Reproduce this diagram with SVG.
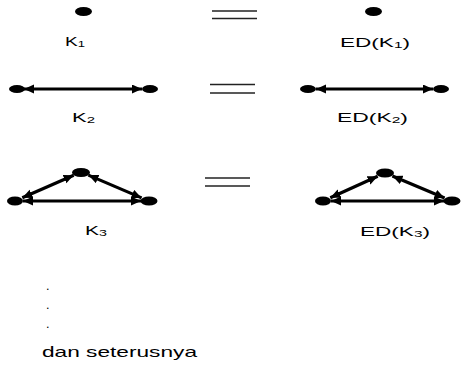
<svg xmlns="http://www.w3.org/2000/svg" width="464" height="365" viewBox="0 0 464 365">
<defs>
<style>
.t{font-family:"Liberation Sans",Arial,sans-serif;font-size:12.5px;fill:#000}
.s{font-size:8.5px}
.e{stroke:#000;stroke-width:3.2;fill:none;marker-start:url(#ah);marker-end:url(#ah)}
.n{fill:#000}
.eq{stroke:#222;stroke-width:1.5}
</style>
<marker id="ah" markerUnits="userSpaceOnUse" markerWidth="12" markerHeight="10" refX="10" refY="4.5" orient="auto-start-reverse" viewBox="0 0 12 10">
<path d="M0,0 L10,4.5 L0,9 Z" fill="#000"/>
</marker>
</defs>
<rect width="464" height="365" fill="#fff"/>
<g id="connectors">
<line class="e" x1="24" y1="89" x2="142" y2="89"/>
<line class="e" x1="316" y1="89" x2="433" y2="89"/>
<line class="e" x1="22.3" y1="197.8" x2="73.7" y2="175.2"/>
<line class="e" x1="88.4" y1="175.1" x2="141.6" y2="197.9"/>
<line class="e" x1="23" y1="201" x2="141" y2="201"/>
<line class="e" x1="330.3" y1="197.7" x2="377.7" y2="176.3"/>
<line class="e" x1="392.4" y1="176.1" x2="444.6" y2="197.9"/>
<line class="e" x1="331" y1="201" x2="444" y2="201"/>
</g>
<g id="equals">
<line class="eq" x1="212" y1="11" x2="257" y2="11"/>
<line class="eq" x1="212" y1="18.5" x2="257" y2="18.5"/>
<line class="eq" x1="210" y1="84.5" x2="255" y2="84.5"/>
<line class="eq" x1="210" y1="93" x2="255" y2="93"/>
<line class="eq" x1="205" y1="178" x2="250" y2="178"/>
<line class="eq" x1="205" y1="186" x2="250" y2="186"/>
</g>
<g id="K1"><ellipse class="n" cx="83.5" cy="11.5" rx="8.5" ry="4.5"/></g>
<g id="EDK1"><ellipse class="n" cx="373.5" cy="11.5" rx="8.5" ry="4.5"/></g>
<g id="K2a"><ellipse class="n" cx="17" cy="89" rx="8" ry="4"/></g>
<g id="K2b"><ellipse class="n" cx="150" cy="89" rx="8" ry="4"/></g>
<g id="EDK2a"><ellipse class="n" cx="308" cy="89" rx="8" ry="4"/></g>
<g id="EDK2b"><ellipse class="n" cx="441" cy="89" rx="8" ry="4"/></g>
<g id="K3top"><ellipse class="n" cx="81" cy="172.5" rx="9" ry="4.5"/></g>
<g id="K3left"><ellipse class="n" cx="15" cy="201" rx="8" ry="4.5"/></g>
<g id="K3right"><ellipse class="n" cx="149" cy="201" rx="8.5" ry="4.5"/></g>
<g id="EDK3top"><ellipse class="n" cx="385" cy="173" rx="9" ry="4.5"/></g>
<g id="EDK3left"><ellipse class="n" cx="323" cy="201" rx="8" ry="4.5"/></g>
<g id="EDK3right"><ellipse class="n" cx="452" cy="201" rx="8.5" ry="4.5"/></g>
<g id="labels">
<text class="t" x="65" y="46" textLength="20" lengthAdjust="spacingAndGlyphs">K<tspan class="s" dy="1">1</tspan></text>
<text class="t" x="340" y="47" textLength="70" lengthAdjust="spacingAndGlyphs">ED(K<tspan class="s" dy="1">1</tspan><tspan dy="-1">)</tspan></text>
<text class="t" x="72" y="122" textLength="23" lengthAdjust="spacingAndGlyphs">K<tspan class="s" dy="1">2</tspan></text>
<text class="t" x="337" y="122" textLength="71" lengthAdjust="spacingAndGlyphs">ED(K<tspan class="s" dy="1">2</tspan><tspan dy="-1">)</tspan></text>
<text class="t" x="85" y="235" textLength="22" lengthAdjust="spacingAndGlyphs">K<tspan class="s" dy="1">3</tspan></text>
<text class="t" x="360" y="236" textLength="70" lengthAdjust="spacingAndGlyphs">ED(K<tspan class="s" dy="1">3</tspan><tspan dy="-1">)</tspan></text>
<text class="t" x="46" y="290">.</text>
<text class="t" x="46" y="309">.</text>
<text class="t" x="46" y="328">.</text>
<text class="t" x="42" y="357" style="font-size:15px" textLength="155" lengthAdjust="spacingAndGlyphs">dan seterusnya</text>
</g>
</svg>
